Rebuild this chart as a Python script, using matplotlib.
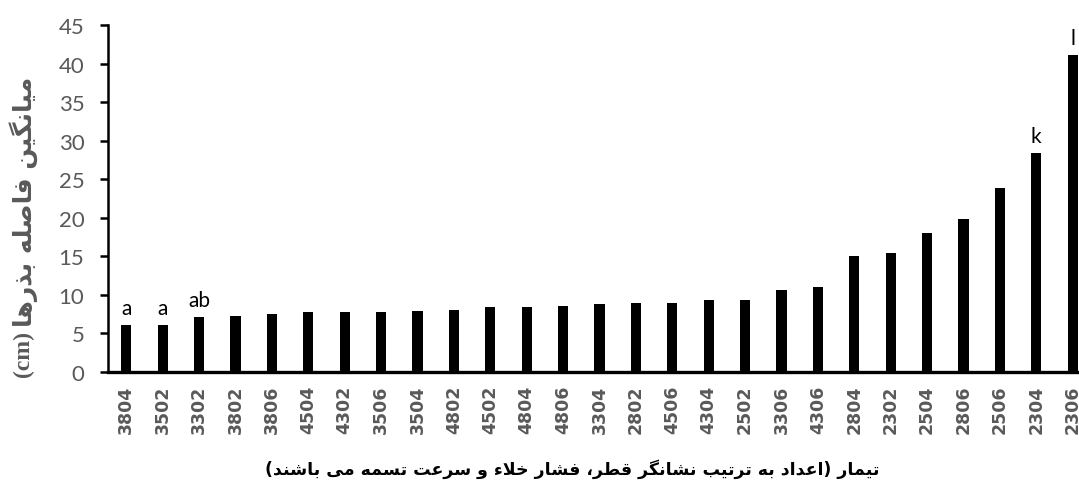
import matplotlib
matplotlib.use("Agg")
import matplotlib.pyplot as plt

# treatments (diameter, vacuum, belt speed) and mean seed spacing (cm)
treatments = ["3804", "3502", "3302", "3802", "3806", "4504", "4302", "3506", "3504",
              "4802", "4502", "4804", "4806", "3304", "2802", "4506", "4304", "2502",
              "3306", "4306", "2804", "2302", "2504", "2806", "2506", "2304", "2306"]
means = [6.1, 6.1, 7.1, 7.3, 7.5, 7.8, 7.8, 7.8, 7.9,
         8.1, 8.4, 8.4, 8.6, 8.8, 8.9, 9.0, 9.3, 9.4,
         10.7, 11.0, 15.0, 15.4, 18.0, 19.9, 23.9, 28.4, 41.1]
letters = ["a", "a", "ab", "", "", "", "", "", "",
           "", "", "", "", "", "", "", "", "",
           "", "", "", "", "", "", "", "k", "l"]

xlabel_fa = "تیمار (اعداد به ترتیب نشانگر قطر، فشار خلاء و سرعت تسمه می باشند)"
ylabel_fa = "میانگین فاصله بذرها"

# minimal persian shaping (matplotlib has no bidi / joining)
FORMS = {
    "ا": (0xFE8D, 0xFE8E), "ب": (0xFE8F, 0xFE90, 0xFE91, 0xFE92),
    "ت": (0xFE95, 0xFE96, 0xFE97, 0xFE98), "خ": (0xFEA5, 0xFEA6, 0xFEA7, 0xFEA8),
    "د": (0xFEA9, 0xFEAA), "ذ": (0xFEAB, 0xFEAC), "ر": (0xFEAD, 0xFEAE),
    "س": (0xFEB1, 0xFEB2, 0xFEB3, 0xFEB4), "ش": (0xFEB5, 0xFEB6, 0xFEB7, 0xFEB8),
    "ص": (0xFEB9, 0xFEBA, 0xFEBB, 0xFEBC), "ط": (0xFEC1, 0xFEC2, 0xFEC3, 0xFEC4),
    "ع": (0xFEC9, 0xFECA, 0xFECB, 0xFECC), "ف": (0xFED1, 0xFED2, 0xFED3, 0xFED4),
    "ق": (0xFED5, 0xFED6, 0xFED7, 0xFED8), "ل": (0xFEDD, 0xFEDE, 0xFEDF, 0xFEE0),
    "م": (0xFEE1, 0xFEE2, 0xFEE3, 0xFEE4), "ن": (0xFEE5, 0xFEE6, 0xFEE7, 0xFEE8),
    "ه": (0xFEE9, 0xFEEA, 0xFEEB, 0xFEEC), "و": (0xFEED, 0xFEEE),
    "ی": (0xFBFC, 0xFBFD, 0xFBFE, 0xFBFF), "گ": (0xFB92, 0xFB93, 0xFB94, 0xFB95),
}


def shape_fa(s):
    out = []
    i = 0
    while i < len(s):
        c = s[i]
        prev = s[i - 1] if i > 0 else ""
        p = prev in FORMS and len(FORMS[prev]) == 4
        if c == "ل" and i + 1 < len(s) and s[i + 1] == "ا":
            out.append(chr(0xFEFC) if p else chr(0xFEFB))
            i += 2
            continue
        if c not in FORMS:
            out.append(c)
            i += 1
            continue
        f = FORMS[c]
        nxt = s[i + 1] if i + 1 < len(s) else ""
        q = len(f) == 4 and nxt in FORMS
        if p and q:
            g = f[3]
        elif p:
            g = f[1]
        elif q:
            g = f[2]
        else:
            g = f[0]
        out.append(chr(g))
        i += 1
    mirror = {"(": ")", ")": "("}
    return "".join(mirror.get(ch, ch) for ch in reversed(out))


fig = plt.figure(figsize=(10.79, 4.85), dpi=100)
ax = fig.add_axes([0.1001, 0.2309, 0.9109, 0.7155])

x = range(len(treatments))
ax.bar(x, means, width=0.28, color="black")

for i, (v, lab) in enumerate(zip(means, letters)):
    if lab:
        ax.annotate(lab, (i, v), xytext=(0, 5), textcoords="offset points",
                    ha="center", va="bottom", fontsize=15, family="Lato", color="black")

ax.set_xlim(-0.5, 26.5)
ax.set_ylim(0, 45)
ax.set_yticks(range(0, 46, 5))
ax.set_xticks(list(x))
ax.set_xticklabels(treatments, rotation=90, fontsize=12.5, family="DejaVu Sans",
                   fontweight="bold", color="#595959")
for t in ax.get_yticklabels():
    t.set_fontsize(16)
    t.set_family("Lato")
    t.set_color("#595959")

ax.spines["top"].set_visible(False)
ax.spines["right"].set_visible(False)
ax.spines["bottom"].set_linewidth(2.4)
ax.spines["left"].set_linewidth(1.8)
ax.tick_params(axis="x", length=0, pad=9)
ax.tick_params(axis="y", length=6, width=1.8, pad=11)

fig.text(0.53, 0.012, shape_fa(xlabel_fa), ha="center", va="bottom",
         fontsize=12.5, fontweight="bold", family="DejaVu Sans", color="black")
fig.text(0.022, 0.326, shape_fa(ylabel_fa), rotation=90, ha="center", va="bottom",
         fontsize=18, fontweight="bold", family="DejaVu Sans", color="#595959")
fig.text(0.022, 0.318, "(cm)", rotation=90, ha="center", va="top",
         fontsize=17, fontweight="bold", family="Liberation Serif", color="#595959")

fig.savefig("out.png", dpi=100)
